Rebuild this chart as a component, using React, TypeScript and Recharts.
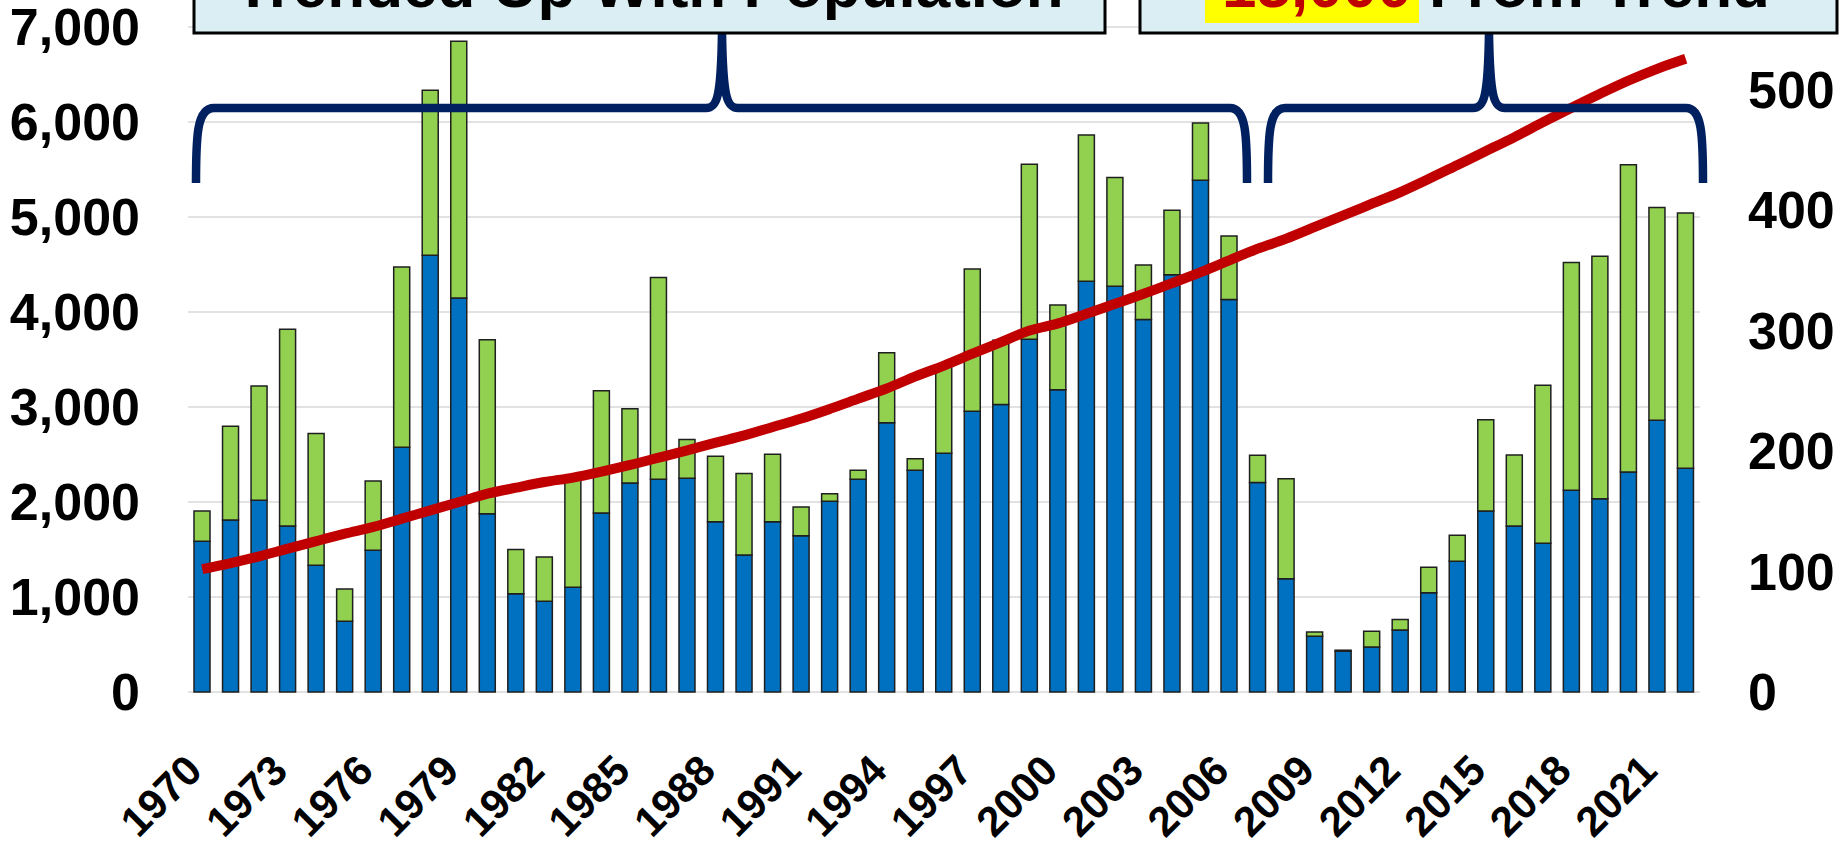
import React from "react";
import { ComposedChart, Bar, Line, XAxis, YAxis, CartesianGrid } from "recharts";

const years = [
  "1970", "1971", "1972", "1973", "1974", "1975", "1976", "1977", "1978", "1979",
  "1980", "1981", "1982", "1983", "1984", "1985", "1986", "1987", "1988", "1989",
  "1990", "1991", "1992", "1993", "1994", "1995", "1996", "1997", "1998", "1999",
  "2000", "2001", "2002", "2003", "2004", "2005", "2006", "2007", "2008", "2009",
  "2010", "2011", "2012", "2013", "2014", "2015", "2016", "2017", "2018", "2019",
  "2020", "2021", "2022",
];

const blueValues = [
  1586, 1811, 2018, 1747, 1334, 744, 1491, 2576, 4597, 4147,
  1877, 1035, 955, 1102, 1884, 2200, 2239, 2249, 1793, 1442,
  1793, 1646, 2007, 2239, 2835, 2334, 2512, 2955, 3026, 3713,
  3181, 4323, 4271, 3920, 4393, 5386, 4131, 2204, 1193, 586,
  430, 474, 653, 1046, 1376, 1905, 1747, 1565, 2123, 2035,
  2316, 2860, 2355,
];

const greenValues = [
  319, 986, 1202, 2071, 1386, 340, 730, 1898, 1736, 2702,
  1832, 464, 466, 1158, 1288, 781, 2123, 408, 688, 857,
  709, 301, 81, 95, 737, 122, 920, 1498, 676, 1842,
  893, 1540, 1144, 575, 677, 603, 669, 288, 1053, 46,
  10, 165, 109, 267, 273, 962, 748, 1665, 2397, 2551,
  3235, 2239, 2687,
];

const trendValues = [
  102, 107, 112.6, 119, 125.3, 131.4, 137, 143.9, 150.8, 157.7,
  164.6, 169.6, 174.3, 178, 183, 188.5, 194.5, 200.6, 207, 213,
  220, 227, 235, 243.5, 252, 262, 271, 280.8, 290.5, 300,
  306, 314, 322.3, 330.6, 339.4, 348.5, 358.3, 368, 376.3, 386,
  395.6, 405.3, 415, 426, 437.5, 449, 460.6, 473, 485, 496.6,
  507.6, 517.3, 525.6,
];

const leftTicks = [0, 1000, 2000, 3000, 4000, 5000, 6000, 7000];
const rightTicks = [0, 100, 200, 300, 400, 500];

const data = years.map((year, i) => ({
  year,
  blue: blueValues[i],
  green: greenValues[i],
  trend: trendValues[i],
}));

const FONT = "'Liberation Sans', Arial, sans-serif";
const NAVY = "#002060";

const LeftTick = (props: any) => {
  const { y, payload } = props;
  return (
    <text x={140} y={y} dy={18} textAnchor="end" fontFamily={FONT} fontWeight="bold" fontSize={52} fill="#000">
      {Number(payload.value).toLocaleString("en-US")}
    </text>
  );
};

const RightTick = (props: any) => {
  const { y, payload } = props;
  return (
    <text x={1748} y={y} dy={18} textAnchor="start" fontFamily={FONT} fontWeight="bold" fontSize={52} fill="#000">
      {payload.value}
    </text>
  );
};

// year labels, rotated like the original (end of text at the tick)
const YearTick = (props: any) => {
  const { x, payload } = props;
  return (
    <g transform={`translate(${x + 2},773)`}>
      <text transform="rotate(-45)" textAnchor="end" fontFamily={FONT} fontWeight="bold" fontSize={42} fill="#000">
        {payload.value}
      </text>
    </g>
  );
};

function Overlay() {
  return (
    <svg width={1848} height={845} style={{ position: "absolute", left: 0, top: 0, pointerEvents: "none" }}>
      {/* left brace */}
      <path
        d="M196 183 C196 135 197 108 214 108 L706 108 C717 108 721 98 722 33 C723 98 727 108 738 108 L1230 108 C1246 108 1247 135 1247 183"
        fill="none" stroke={NAVY} strokeWidth={8.5}
      />
      {/* right brace */}
      <path
        d="M1268 183 C1268 135 1269 108 1285 108 L1473 108 C1484 108 1488 98 1489 33 C1490 98 1494 108 1505 108 L1686 108 C1702 108 1703 135 1703 183"
        fill="none" stroke={NAVY} strokeWidth={8.5}
      />
      <rect x={194} y={-40} width={911} height={73} fill="#DAEEF3" stroke="#000" strokeWidth={3} />
      <text x={649} y={7} textAnchor="middle" fontFamily={FONT} fontWeight="bold" fontSize={62} fill="#000">
        Trended Up With Population
      </text>
      <rect x={1140} y={-40} width={697} height={73} fill="#DAEEF3" stroke="#000" strokeWidth={3} />
      <rect x={1205} y={-40} width={214} height={63} fill="#FFFF00" />
      <text x={1496} y={7} textAnchor="middle" fontFamily={FONT} fontWeight="bold" fontSize={62} fill="#000">
        <tspan fill="#C00000">15,000</tspan> From Trend
      </text>
    </svg>
  );
}

export default function App() {
  return (
    <div style={{ position: "absolute", left: 0, top: 0, width: 1848, height: 845, background: "#fff" }}>
      <ComposedChart width={1848} height={845} data={data} margin={{ top: 27, right: 0, bottom: 0, left: 0 }}>
        <CartesianGrid yAxisId="left" vertical={false} stroke="#D9D9D9" strokeWidth={1.5} />
        <XAxis
          dataKey="year"
          height={153}
          interval={2}
          axisLine={false}
          tickLine={false}
          tick={<YearTick />}
        />
        <YAxis
          yAxisId="left"
          width={188}
          domain={[0, 7000]}
          ticks={leftTicks}
          axisLine={false}
          tickLine={false}
          tick={<LeftTick />}
        />
        <YAxis
          yAxisId="right"
          orientation="right"
          width={148}
          domain={[0, 552]}
          ticks={rightTicks}
          axisLine={false}
          tickLine={false}
          tick={<RightTick />}
        />
        <Bar yAxisId="left" dataKey="blue" stackId="a" barSize={16} fill="#0070C0" stroke="#1F1F1F" strokeWidth={1.5} isAnimationActive={false} />
        <Bar yAxisId="left" dataKey="green" stackId="a" barSize={16} fill="#92D050" stroke="#1F1F1F" strokeWidth={1.5} isAnimationActive={false} />
        <Line yAxisId="right" dataKey="trend" type="monotone" stroke="#C00000" strokeWidth={10} dot={false} isAnimationActive={false} />
      </ComposedChart>
      <Overlay />
    </div>
  );
}
